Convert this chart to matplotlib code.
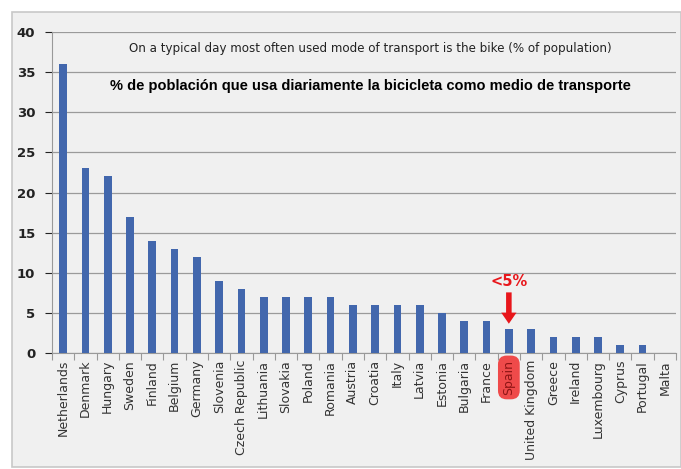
import matplotlib.pyplot as plt
from matplotlib.patches import Rectangle

# data
countries = ["Netherlands", "Denmark", "Hungary", "Sweden", "Finland", "Belgium",
             "Germany", "Slovenia", "Czech Republic", "Lithuania", "Slovakia",
             "Poland", "Romania", "Austria", "Croatia", "Italy", "Latvia",
             "Estonia", "Bulgaria", "France", "Spain", "United Kingdom", "Greece",
             "Ireland", "Luxembourg", "Cyprus", "Portugal", "Malta"]
share = [36, 23, 22, 17, 14, 13, 12, 9, 8, 7, 7, 7, 7, 6, 6, 6, 6,
         5, 4, 4, 3, 3, 2, 2, 2, 1, 1, 0]
yticks = [0, 5, 10, 15, 20, 25, 30, 35, 40]

TITLE_EN = "On a typical day most often used mode of transport is the bike (% of population)"
TITLE_ES = "% de población que usa diariamente la bicicleta como medio de transporte"
HIGHLIGHT = "Spain"

BG = "#f0f0f0"
BAR = "#4267ad"
RED = "#e8161b"

fig = plt.figure(figsize=(6.81, 4.69), dpi=100)
fig.patch.set_facecolor("white")

# grey panel with a thin frame
fig.patches.append(Rectangle((12 / 681, 2 / 469), 669 / 681, 455 / 469,
                             transform=fig.transFigure, facecolor=BG,
                             edgecolor="#c8c8c8", linewidth=1.2, zorder=-10))

ax = fig.add_axes([52 / 681, 1 - 353 / 469, 624 / 681, 321 / 469])
ax.set_zorder(5)
ax.patch.set_alpha(0)

x = list(range(len(countries)))
ax.bar(x, share, width=0.35, color=BAR, zorder=3)

ax.set_xlim(-0.5, len(countries) - 0.5)
ax.set_ylim(0, 40)
ax.set_yticks(yticks)
ax.tick_params(axis="y", labelsize=9.5, colors="#222222", length=5, width=0.8, pad=7)
for lab in ax.get_yticklabels():
    lab.set_fontweight("semibold")
ax.yaxis.grid(True, color="#9a9a9a", linewidth=0.9, zorder=0)
ax.set_axisbelow(True)

ax.set_xticks(x)
ax.set_xticklabels(countries, rotation=90, fontsize=9, color="#333333",
                   family="DejaVu Sans")
ax.tick_params(axis="x", length=0, pad=5)
# separator ticks between categories
ax.set_xticks([i - 0.5 for i in range(len(countries) + 1)], minor=True)
ax.tick_params(axis="x", which="minor", length=5, width=0.8, color="#999999")

for side in ["top", "right"]:
    ax.spines[side].set_visible(False)
ax.spines["left"].set_color("#999999")
ax.spines["bottom"].set_color("#999999")

for lab in ax.get_xticklabels():
    if lab.get_text() == HIGHLIGHT:
        lab.set_color("#8e1515")
        lab.set_bbox(dict(boxstyle="round,pad=0.35,rounding_size=0.7",
                          facecolor="#ef4a4a", edgecolor="none"))

ax.text(0.51, 0.95, TITLE_EN, transform=ax.transAxes, ha="center", va="center",
        fontsize=8.6, color="#222222", family="DejaVu Sans")
ax.text(0.51, 0.833, TITLE_ES, transform=ax.transAxes, ha="center", va="center",
        fontsize=10.5, color="black", fontweight="bold",
        family=["Liberation Sans Narrow", "Liberation Sans", "DejaVu Sans"])

# arrow pointing at Spain
i_sp = countries.index(HIGHLIGHT)
ax.annotate("", xy=(i_sp, share[i_sp] + 0.3), xytext=(i_sp, share[i_sp] + 4.9),
            arrowprops=dict(arrowstyle="simple,head_width=1.1,head_length=0.8,tail_width=0.4",
                            color=RED, lw=0), zorder=5)
ax.text(i_sp, share[i_sp] + 5.0, "<5%", ha="center", va="bottom", color=RED,
        fontsize=10.5, fontweight="bold")

fig.savefig("out.png", dpi=100, facecolor=fig.get_facecolor())
